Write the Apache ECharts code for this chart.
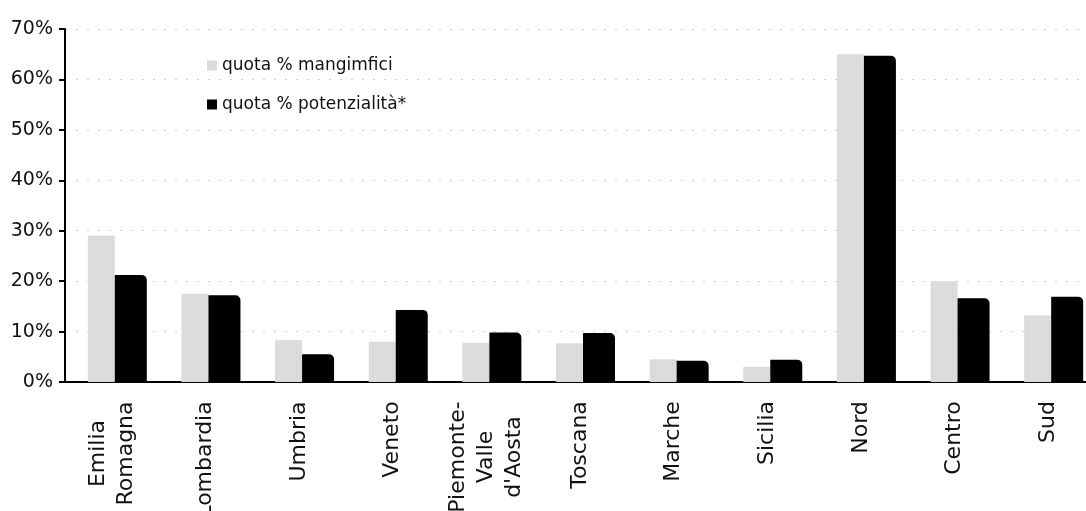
<!DOCTYPE html>
<html>
<head>
<meta charset="utf-8">
<script src="https://cdn.jsdelivr.net/npm/echarts@6/dist/echarts.min.js"></script>
<style>
  html, body { margin: 0; padding: 0; background: #fff; }
  #main { width: 1086px; height: 511px; }
</style>
</head>
<body>
<div id="main"></div>
<script>
var regioni = ['Emilia\nRomagna', 'Lombardia', 'Umbria', 'Veneto', 'Piemonte-\nValle\nd\'Aosta',
    'Toscana', 'Marche', 'Sicilia', 'Nord', 'Centro', 'Sud'];
var quotaMangimifici = [29, 17.5, 8.3, 8, 7.8, 7.7, 4.5, 3, 65, 20, 13.2];
var quotaPotenzialita = [21.2, 17.2, 5.5, 14.3, 9.8, 9.7, 4.2, 4.4, 64.7, 16.6, 16.9];
var yTicks = [0, 10, 20, 30, 40, 50, 60, 70];

var font = 'DejaVu Sans';
var labelSize = 22;

// each multi-line label gets a box as wide as its longest line, lines centred in it
var ctx = document.createElement('canvas').getContext('2d');
ctx.font = labelSize + 'px "' + font + '"';
var rich = {};
regioni.forEach(function (name, i) {
    var w = 0;
    name.split('\n').forEach(function (s) { w = Math.max(w, ctx.measureText(s).width); });
    rich['w' + i] = { width: Math.ceil(w), align: 'center', fontSize: labelSize, lineHeight: 28, fontFamily: font, color: '#111' };
});

var chart = echarts.init(document.getElementById('main'));
var option = {
    animation: false,
    textStyle: { fontFamily: font },
    legend: {
        orient: 'vertical',
        left: 202,
        top: 52,
        itemWidth: 10,
        itemHeight: 10,
        itemGap: 22,
        textStyle: { fontSize: 17, color: '#111', fontFamily: font },
        data: [
            { name: 'quota % mangimfici', icon: 'rect' },
            { name: 'quota % potenzialità*', icon: 'rect' }
        ]
    },
    grid: { left: 65, width: 1030, top: 29, bottom: 129, outerBoundsMode: 'none', containLabel: false },
    xAxis: {
        type: 'category',
        data: regioni,
        axisLine: { lineStyle: { color: '#000', width: 2 } },
        axisTick: { length: 8, lineStyle: { color: '#000', width: 2 } },
        axisLabel: {
            interval: 0,
            rotate: 90,
            margin: 19,
            color: '#111',
            fontSize: labelSize,
            lineHeight: 28,
            formatter: function (v, i) {
                return v.split('\n').map(function (s) { return '{w' + i + '|' + s + '}'; }).join('\n');
            },
            rich: rich
        }
    },
    yAxis: {
        type: 'value',
        min: yTicks[0],
        max: yTicks[yTicks.length - 1],
        interval: 10,
        axisLine: { show: true, lineStyle: { color: '#000', width: 2 } },
        axisTick: { show: true, length: 6, lineStyle: { color: '#000', width: 2 } },
        axisLabel: { formatter: '{value}%', fontSize: 19, color: '#111', margin: 12 },
        splitLine: { show: true, lineStyle: { color: '#cfcfcf', type: [2, 9], width: 1 } }
    },
    series: [
        {
            // empty spacer: pushes the bar pair a little right of the tick centre, as in the scan
            name: 'spacer',
            type: 'bar',
            barWidth: 11,
            barGap: '0%',
            silent: true,
            data: regioni.map(function () { return null; })
        },
        {
            name: 'quota % mangimfici',
            type: 'bar',
            barWidth: 27,
            barGap: '0%',
            data: quotaMangimifici,
            itemStyle: {
                color: '#dcdcdc',
                decal: {
                    symbol: 'rect',
                    symbolSize: 0.5,
                    color: 'rgba(90,90,90,0.45)',
                    dashArrayX: [1, 3],
                    dashArrayY: [1, 3],
                    rotation: 0
                }
            }
        },
        {
            name: 'quota % potenzialità*',
            type: 'bar',
            barWidth: 32,
            barGap: '0%',
            data: quotaPotenzialita,
            itemStyle: { color: '#000', borderRadius: [0, 5, 0, 0] }
        }
    ]
};
chart.setOption(option);
</script>
</body>
</html>
